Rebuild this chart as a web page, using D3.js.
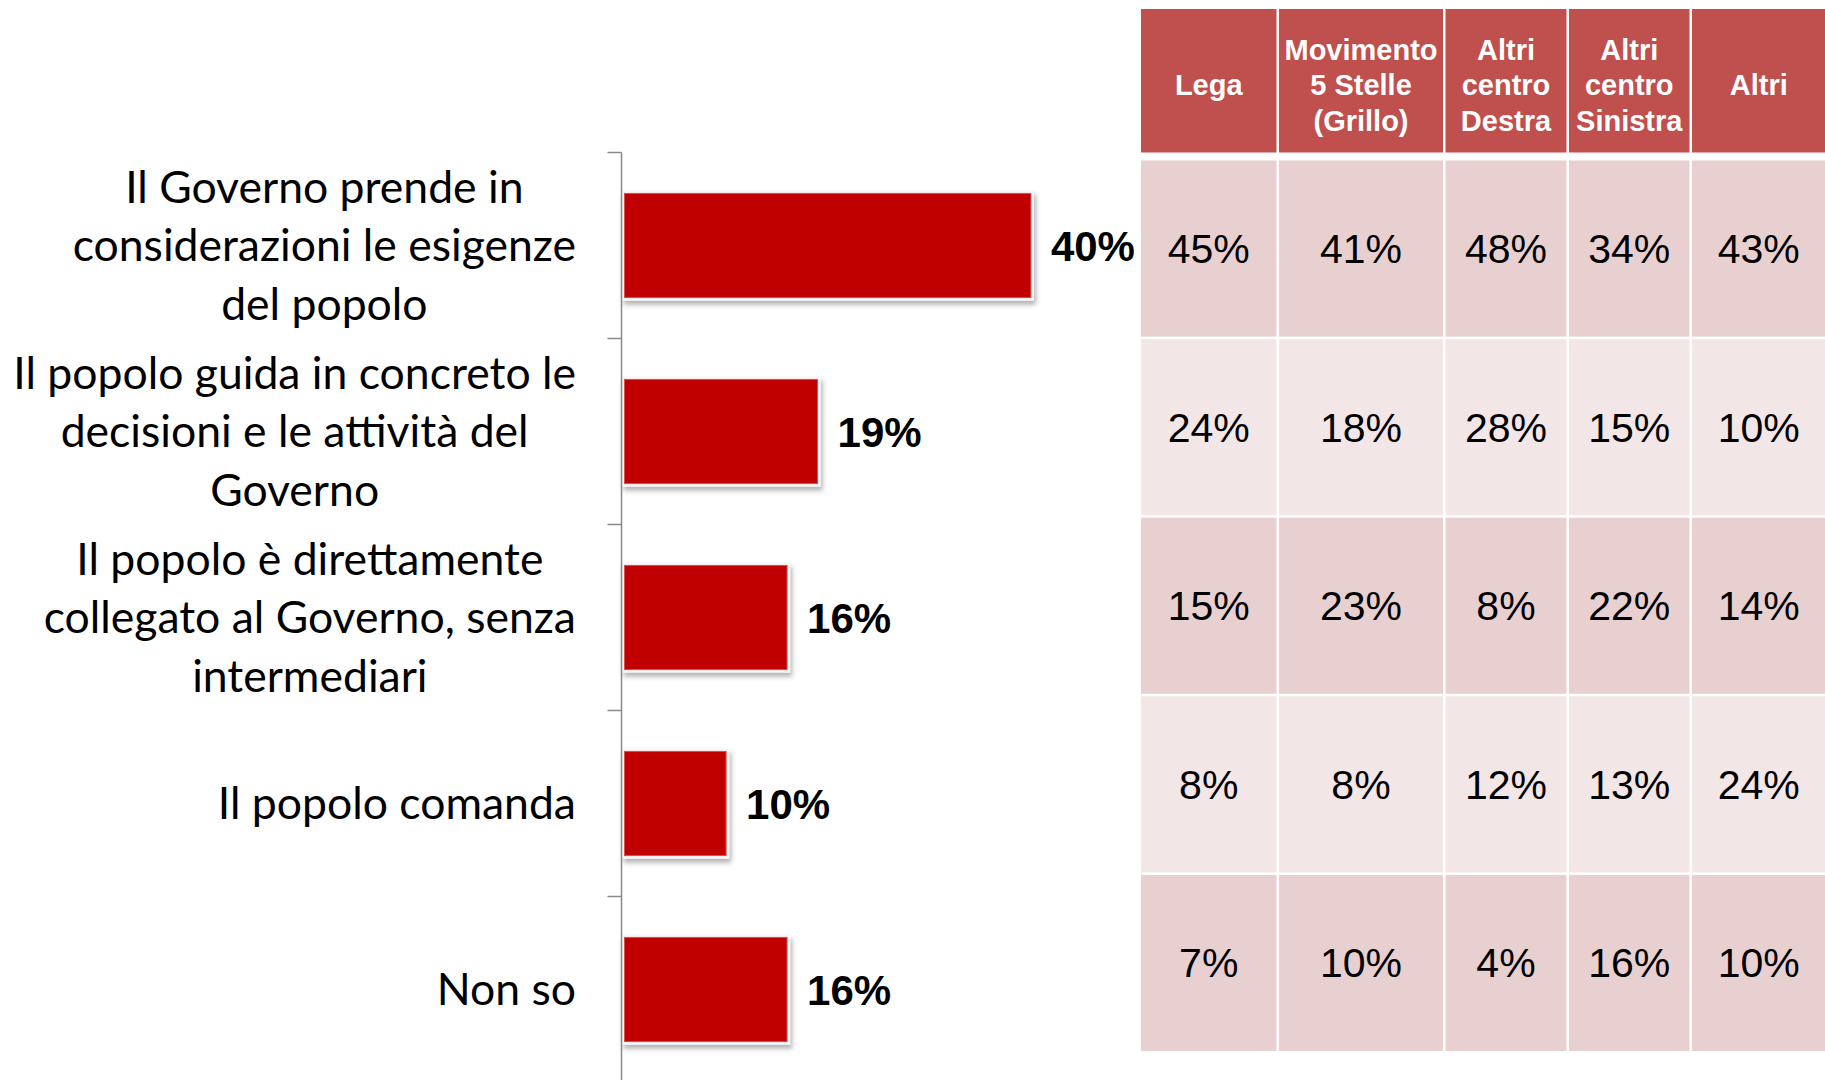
<!DOCTYPE html>
<html>
<head>
<meta charset="utf-8">
<script src="https://cdn.jsdelivr.net/npm/d3@7"></script>
<style>
    body { margin: 0; background: #ffffff; }
    svg { display: block; }
</style>
</head>
<body>
<div id="chart"></div>
<script>

// answers (left bar chart), "\n" marks the line breaks of the label
var categories = [
    "Il Governo prende in\nconsiderazioni le esigenze\ndel popolo",
    "Il popolo guida in concreto le\ndecisioni e le attività del\nGoverno",
    "Il popolo è direttamente\ncollegato al Governo, senza\nintermediari",
    "Il popolo comanda",
    "Non so"
];
var totalValues = [0.40, 0.19, 0.16, 0.10, 0.16];

// table on the right: one array per party, same order as categories
var parties = ["Lega", "Movimento\n5 Stelle\n(Grillo)", "Altri\ncentro\nDestra", "Altri\ncentro\nSinistra", "Altri"];
var lega = [0.45, 0.24, 0.15, 0.08, 0.07];
var movimento5Stelle = [0.41, 0.18, 0.23, 0.08, 0.10];
var altriCentroDestra = [0.48, 0.28, 0.08, 0.12, 0.04];
var altriCentroSinistra = [0.34, 0.15, 0.22, 0.13, 0.16];
var altri = [0.43, 0.10, 0.14, 0.24, 0.10];


var width = 1825, height = 1080;
var pct = d3.format(".0%");

var svg = d3.select("#chart").append("svg")
    .attr("width", width)
    .attr("height", height);

// shadow under the bars
var defs = svg.append("defs");
defs.append("filter")
    .attr("id", "barShadow")
    .attr("x", "-10%").attr("y", "-20%")
    .attr("width", "130%").attr("height", "160%")
    .append("feDropShadow")
        .attr("dx", 2)
        .attr("dy", 4)
        .attr("stdDeviation", 2.5)
        .attr("flood-color", "#000")
        .attr("flood-opacity", 0.3);

/*
 * Bar chart
 */
var axisX = 621.5;

var yScale = d3.scaleBand()
    .domain(categories)
    .range([152.5, 1082.5])
    .paddingInner(0.44)
    .paddingOuter(0.22);

var xScale = d3.scaleLinear()
    .domain([0, 0.5])
    .range([axisX + 3, axisX + 3 + 508]);

var bars = svg.append("g").attr("class", "bars");

// light frame + shadow
bars.selectAll(".barFrame")
    .data(totalValues)
    .enter().append("rect")
    .attr("class", "barFrame")
    .attr("x", xScale(0) - 3)
    .attr("y", (d, i) => yScale(categories[i]) - 3)
    .attr("width", d => xScale(d) - xScale(0) + 6)
    .attr("height", yScale.bandwidth() + 6)
    .attr("fill", "#f7f7f7")
    .attr("filter", "url(#barShadow)");

bars.selectAll(".bar")
    .data(totalValues)
    .enter().append("rect")
    .attr("class", "bar")
    .attr("x", xScale(0))
    .attr("y", (d, i) => yScale(categories[i]))
    .attr("width", d => xScale(d) - xScale(0))
    .attr("height", yScale.bandwidth())
    .attr("fill", "#c00000")
    .attr("stroke", "#d94f4f")
    .attr("stroke-width", 1);

bars.selectAll(".barLabel")
    .data(totalValues)
    .enter().append("text")
    .attr("class", "barLabel")
    .attr("x", d => xScale(d) + 20)
    .attr("y", (d, i) => yScale(categories[i]) + yScale.bandwidth() / 2 + 15)
    .attr("font-family", "'Liberation Sans', Arial, sans-serif")
    .attr("font-weight", "bold")
    .attr("font-size", 42)
    .attr("fill", "#000")
    .text(d => pct(d));

// vertical axis with ticks between the categories
var axis = svg.append("g").attr("class", "y-axis");
var tickYs = categories.map(c => yScale(c) - (yScale.step() - yScale.bandwidth()) / 2);
tickYs.push(yScale.range()[1]);

axis.append("line")
    .attr("x1", axisX).attr("x2", axisX)
    .attr("y1", yScale.range()[0]).attr("y2", yScale.range()[1])
    .attr("stroke", "#898989")
    .attr("stroke-width", 1.5);

axis.selectAll(".tick")
    .data(tickYs)
    .enter().append("line")
    .attr("class", "tick")
    .attr("x1", axisX - 14).attr("x2", axisX)
    .attr("y1", d => d).attr("y2", d => d)
    .attr("stroke", "#898989")
    .attr("stroke-width", 1.5);

// category labels: lines centred inside a block that is right aligned
var labelRight = 576;
var labelSize = 44.5;
var lineHeight = 58.5;

categories.forEach(function(c) {
    var lines = c.split("\n");
    var g = svg.append("g").attr("class", "catLabel");
    var cy = yScale(c) + yScale.bandwidth() / 2;

    var texts = g.selectAll("text")
        .data(lines)
        .enter().append("text")
        .attr("font-family", "Lato, 'Open Sans', sans-serif")
        .attr("font-size", labelSize)
        .attr("fill", "#000")
        .attr("text-anchor", "middle")
        .attr("y", (d, i) => cy + (i - (lines.length - 1) / 2) * lineHeight + labelSize * 0.35)
        .text(d => d);

    var maxW = 0;
    texts.each(function() { maxW = Math.max(maxW, this.getComputedTextLength()); });
    texts.attr("x", labelRight - maxW / 2);
});

/*
 * Table
 */
var tableCols = [lega, movimento5Stelle, altriCentroDestra, altriCentroSinistra, altri];
var colEdges = [1141, 1279, 1445.5, 1569, 1692, 1828];
var gap = 2.5;
var headerTop = 9, headerBottom = 152.5;
var rowTop = 160.5, rowStep = 178.6;
var rowColors = ["#e8d0d1", "#f2e6e6"];

var table = svg.append("g").attr("class", "table");

parties.forEach(function(p, j) {
    var x0 = colEdges[j];
    var w = colEdges[j + 1] - x0 - gap;
    var cx = x0 + w / 2;

    table.append("rect")
        .attr("x", x0).attr("y", headerTop)
        .attr("width", w).attr("height", headerBottom - headerTop)
        .attr("fill", "#c0504d");

    var lines = p.split("\n");
    table.selectAll(".head" + j)
        .data(lines)
        .enter().append("text")
        .attr("class", "head" + j)
        .attr("x", cx)
        .attr("y", (d, i) => 84.5 + (i - (lines.length - 1) / 2) * 35.5 + 10.5)
        .attr("text-anchor", "middle")
        .attr("font-family", "'Liberation Sans', Arial, sans-serif")
        .attr("font-weight", "bold")
        .attr("font-size", 29)
        .attr("fill", "#ffffff")
        .text(d => d);

    tableCols[j].forEach(function(v, i) {
        var y0 = rowTop + i * rowStep;
        table.append("rect")
            .attr("x", x0).attr("y", y0)
            .attr("width", w).attr("height", rowStep - gap)
            .attr("fill", rowColors[i % 2]);
        table.append("text")
            .attr("x", cx)
            .attr("y", y0 + (rowStep - gap) / 2 + 14.5)
            .attr("text-anchor", "middle")
            .attr("font-family", "'Liberation Sans', Arial, sans-serif")
            .attr("font-size", 41)
            .attr("fill", "#000")
            .text(pct(v));
    });
});

</script>
</body>
</html>
